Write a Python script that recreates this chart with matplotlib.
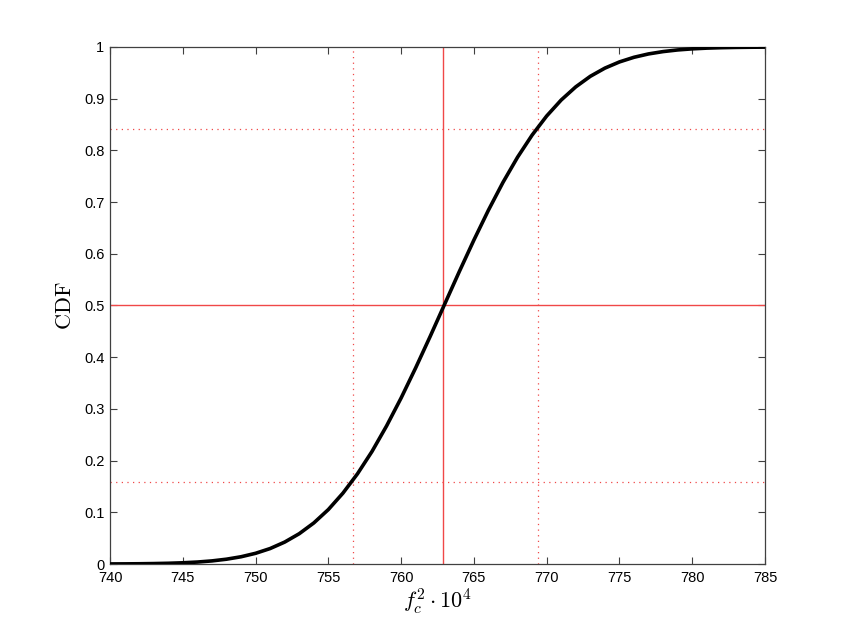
import matplotlib
matplotlib.use("Agg")
import matplotlib.pyplot as plt

# CDF curve values
x_vals = list(range(740, 786))
cdf_vals = [0.00015, 0.00027, 0.00048, 0.00084, 0.00142, 0.00235, 0.0038, 0.0060,
            0.0093, 0.0140, 0.0207, 0.0299, 0.0424, 0.0586, 0.0794, 0.1053,
            0.1370, 0.1744, 0.2177, 0.2670, 0.3211, 0.3794, 0.4404, 0.5031,
            0.5657, 0.6265, 0.6844, 0.7382, 0.7868, 0.8296, 0.8665, 0.8975,
            0.9229, 0.9433, 0.9591, 0.9711, 0.9801, 0.9866, 0.9911, 0.9943,
            0.9964, 0.9978, 0.99865, 0.9992, 0.99954, 0.99974]

median_x = 762.9
lower_x = 756.7
upper_x = 769.4
median_p = 0.5
lower_p = 0.1587
upper_p = 0.8413

x_ticks = list(range(740, 790, 5))
y_ticks = [0, 0.1, 0.2, 0.3, 0.4, 0.5, 0.6, 0.7, 0.8, 0.9, 1]
y_ticklabels = ["0", "0.1", "0.2", "0.3", "0.4", "0.5", "0.6", "0.7", "0.8", "0.9", "1"]

plt.rcParams['font.family'] = ['Liberation Sans', 'DejaVu Sans']
plt.rcParams['mathtext.fontset'] = 'cm'

fig = plt.figure(figsize=(8.45, 6.35), dpi=100)
ax = fig.add_axes([0.1302, 0.1118, 0.7751, 0.8142])

red = '#f04848'
ax.axvline(median_x, color=red, lw=1.0, zorder=2)
ax.axhline(median_p, color=red, lw=1.0, zorder=2)
for xv in (lower_x, upper_x):
    ax.axvline(xv, color=red, lw=0.9, ls=(0, (1, 3.5)), zorder=2)
for yv in (lower_p, upper_p):
    ax.axhline(yv, color=red, lw=0.9, ls=(0, (1, 3.5)), zorder=2)

ax.plot(x_vals, cdf_vals, color='black', lw=2.6, zorder=3,
        solid_joinstyle='round', solid_capstyle='butt')

ax.set_xlim(740, 785)
ax.set_ylim(0, 1)
ax.set_xticks(x_ticks)
ax.set_yticks(y_ticks)
ax.set_yticklabels(y_ticklabels)
ax.tick_params(direction='in', top=True, right=True, length=5, width=0.8,
               color='#404040', labelsize=10.5)
ax.tick_params(axis='x', pad=5)
ax.tick_params(axis='y', pad=4)
for s in ax.spines.values():
    s.set_color('#404040')
    s.set_linewidth(0.9)

ax.set_xlabel(r'$f_c^2\cdot 10^4$', fontsize=16, labelpad=1)
ax.set_ylabel(r'$\mathrm{CDF}$', fontsize=16, labelpad=6)

fig.savefig('out.png', dpi=100)
